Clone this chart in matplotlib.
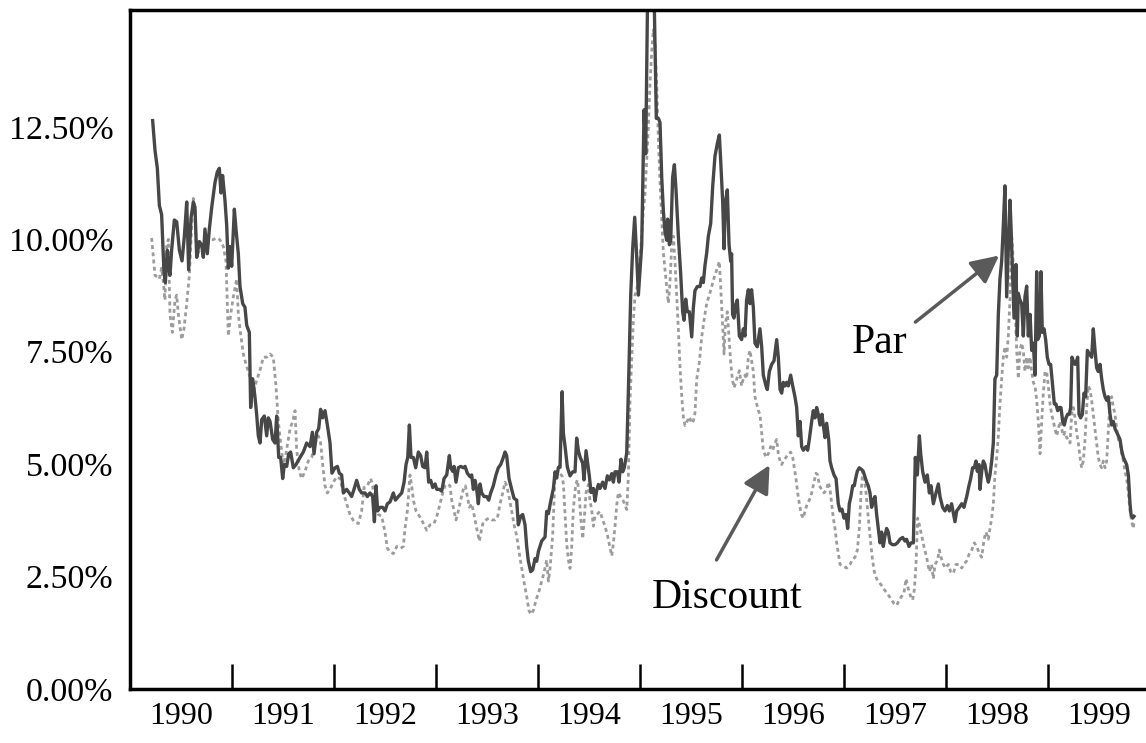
# Par vs Discount yields, 1990-1999
import matplotlib.pyplot as plt
import numpy as np

plt.rcParams['font.family'] = ['Liberation Serif', 'DejaVu Serif']

# dates as decimal years, values in percent
par_t = [1990.222, 1990.245, 1990.268, 1990.288, 1990.310, 1990.333, 1990.346, 1990.366, 1990.379, 1990.392,
         1990.408, 1990.435, 1990.458, 1990.484, 1990.510, 1990.533, 1990.556, 1990.575, 1990.598, 1990.621,
         1990.637, 1990.654, 1990.680, 1990.703, 1990.719, 1990.735, 1990.758, 1990.778, 1990.801, 1990.833,
         1990.856, 1990.876, 1990.892, 1990.908, 1990.931, 1990.948, 1990.964, 1990.980, 1990.997, 1991.023,
         1991.039, 1991.062, 1991.078, 1991.105, 1991.127, 1991.144, 1991.170, 1991.183, 1991.203, 1991.225,
         1991.242, 1991.258, 1991.275, 1991.291, 1991.317, 1991.340, 1991.356, 1991.373, 1991.399, 1991.422,
         1991.438, 1991.458, 1991.477, 1991.497, 1991.513, 1991.536, 1991.556, 1991.575, 1991.601, 1991.627,
         1991.667, 1991.699, 1991.732, 1991.765, 1991.788, 1991.804, 1991.830, 1991.850, 1991.869, 1991.889,
         1991.912, 1991.935, 1991.961, 1991.980, 1992.010, 1992.033, 1992.052, 1992.075, 1992.092, 1992.124,
         1992.150, 1992.173, 1992.196, 1992.222, 1992.248, 1992.271, 1992.304, 1992.327, 1992.353, 1992.379,
         1992.396, 1992.412, 1992.428, 1992.451, 1992.477, 1992.500, 1992.523, 1992.549, 1992.582, 1992.602,
         1992.631, 1992.664, 1992.687, 1992.706, 1992.723, 1992.739, 1992.755, 1992.778, 1992.801, 1992.827,
         1992.850, 1992.869, 1992.892, 1992.909, 1992.928, 1992.948, 1992.968, 1992.991, 1993.007, 1993.033,
         1993.056, 1993.079, 1993.105, 1993.131, 1993.144, 1993.164, 1993.177, 1993.196, 1993.219, 1993.242,
         1993.268, 1993.285, 1993.307, 1993.334, 1993.350, 1993.366, 1993.383, 1993.399, 1993.415, 1993.432,
         1993.448, 1993.471, 1993.497, 1993.517, 1993.536, 1993.562, 1993.588, 1993.611, 1993.634, 1993.654,
         1993.677, 1993.693, 1993.716, 1993.742, 1993.765, 1993.791, 1993.807, 1993.830, 1993.850, 1993.873,
         1993.889, 1993.905, 1993.928, 1993.948, 1993.971, 1993.987, 1994.004, 1994.036, 1994.069, 1994.085,
         1994.102, 1994.125, 1994.151, 1994.167, 1994.183, 1994.200, 1994.216, 1994.236, 1994.249, 1994.265,
         1994.288, 1994.314, 1994.340, 1994.363, 1994.379, 1994.396, 1994.412, 1994.438, 1994.451, 1994.471,
         1994.487, 1994.503, 1994.520, 1994.543, 1994.559, 1994.575, 1994.592, 1994.608, 1994.634, 1994.657,
         1994.680, 1994.700, 1994.723, 1994.739, 1994.755, 1994.778, 1994.794, 1994.814, 1994.830, 1994.847,
         1994.870, 1994.889, 1994.909, 1994.928, 1994.948, 1994.968, 1994.984, 1995.000, 1995.017, 1995.040,
         1995.056, 1995.080, 1995.130, 1995.160, 1995.180, 1995.196, 1995.213, 1995.229, 1995.245, 1995.262,
         1995.271, 1995.288, 1995.301, 1995.320, 1995.337, 1995.353, 1995.376, 1995.399, 1995.418, 1995.432,
         1995.448, 1995.464, 1995.484, 1995.507, 1995.523, 1995.539, 1995.562, 1995.588, 1995.605, 1995.621,
         1995.637, 1995.654, 1995.670, 1995.693, 1995.713, 1995.735, 1995.758, 1995.778, 1995.791, 1995.811,
         1995.824, 1995.837, 1995.856, 1995.873, 1995.889, 1995.898, 1995.908, 1995.921, 1995.941, 1995.954,
         1995.974, 1995.996, 1996.013, 1996.029, 1996.045, 1996.062, 1996.078, 1996.094, 1996.111, 1996.127,
         1996.150, 1996.176, 1996.193, 1996.209, 1996.235, 1996.248, 1996.268, 1996.291, 1996.314, 1996.340,
         1996.356, 1996.373, 1996.389, 1996.405, 1996.422, 1996.438, 1996.454, 1996.477, 1996.497, 1996.519,
         1996.536, 1996.552, 1996.569, 1996.585, 1996.601, 1996.627, 1996.644, 1996.660, 1996.683, 1996.699,
         1996.716, 1996.732, 1996.748, 1996.765, 1996.784, 1996.797, 1996.814, 1996.830, 1996.850, 1996.863,
         1996.879, 1996.902, 1996.922, 1996.944, 1996.961, 1996.980, 1997.000, 1997.019, 1997.036, 1997.052,
         1997.068, 1997.085, 1997.101, 1997.114, 1997.130, 1997.150, 1997.173, 1997.189, 1997.206, 1997.222,
         1997.238, 1997.255, 1997.271, 1997.287, 1997.304, 1997.320, 1997.336, 1997.353, 1997.369, 1997.385,
         1997.402, 1997.418, 1997.434, 1997.451, 1997.474, 1997.500, 1997.523, 1997.549, 1997.575, 1997.598,
         1997.614, 1997.637, 1997.657, 1997.680, 1997.699, 1997.719, 1997.739, 1997.752, 1997.771, 1997.794,
         1997.817, 1997.837, 1997.853, 1997.876, 1997.902, 1997.925, 1997.941, 1997.967, 1997.990, 1998.013,
         1998.033, 1998.055, 1998.072, 1998.088, 1998.105, 1998.131, 1998.154, 1998.176, 1998.203, 1998.225,
         1998.242, 1998.261, 1998.278, 1998.294, 1998.307, 1998.324, 1998.333, 1998.350, 1998.366, 1998.382,
         1998.399, 1998.415, 1998.431, 1998.448, 1998.464, 1998.480, 1998.497, 1998.513, 1998.529, 1998.546,
         1998.562, 1998.578, 1998.595, 1998.611, 1998.627, 1998.637, 1998.650, 1998.667, 1998.676, 1998.686,
         1998.699, 1998.709, 1998.725, 1998.742, 1998.758, 1998.774, 1998.791, 1998.807, 1998.824, 1998.840,
         1998.856, 1998.873, 1998.889, 1998.899, 1998.915, 1998.931, 1998.944, 1998.961, 1998.977, 1998.993,
         1999.010, 1999.026, 1999.046, 1999.062, 1999.078, 1999.095, 1999.111, 1999.127, 1999.144, 1999.160,
         1999.176, 1999.193, 1999.209, 1999.222, 1999.235, 1999.248, 1999.265, 1999.281, 1999.291, 1999.304,
         1999.320, 1999.337, 1999.353, 1999.369, 1999.386, 1999.405, 1999.428, 1999.444, 1999.461, 1999.477,
         1999.493, 1999.510, 1999.526, 1999.542, 1999.559, 1999.575, 1999.591, 1999.608, 1999.624, 1999.641,
         1999.657, 1999.673, 1999.690, 1999.706, 1999.722, 1999.739, 1999.755, 1999.771, 1999.788, 1999.804,
         1999.814, 1999.830, 1999.843]
par_v = [12.64, 11.98, 11.58, 10.75, 10.55, 9.28, 9.04, 9.76, 9.36, 9.20,
         9.76, 10.43, 10.39, 9.76, 9.52, 10.07, 10.83, 9.32, 10.47, 10.83,
         10.71, 9.60, 9.95, 9.87, 9.60, 10.23, 9.68, 10.23, 10.71, 11.26,
         11.50, 11.58, 11.03, 11.42, 10.87, 10.31, 9.36, 9.84, 9.40, 10.67,
         10.23, 9.68, 8.96, 8.57, 8.49, 8.09, 7.93, 6.26, 6.90, 6.50,
         6.10, 5.63, 5.47, 5.99, 6.07, 5.63, 6.03, 5.95, 5.55, 5.47,
         6.07, 5.15, 5.15, 4.68, 4.99, 4.95, 5.23, 5.27, 4.92, 4.99,
         5.15, 5.27, 5.47, 5.39, 5.71, 5.23, 5.71, 5.79, 6.22, 6.03,
         6.19, 5.87, 5.47, 4.80, 4.92, 4.95, 4.80, 4.76, 4.36, 4.44,
         4.36, 4.28, 4.44, 4.64, 4.44, 4.36, 4.36, 4.28, 4.36, 4.28,
         3.72, 4.52, 3.96, 4.04, 4.04, 3.96, 4.12, 4.16, 4.36, 4.20,
         4.28, 4.36, 4.60, 4.99, 5.15, 5.87, 5.15, 5.15, 4.92, 5.27,
         5.19, 4.95, 4.92, 5.27, 4.60, 4.64, 4.48, 4.56, 4.44, 4.44,
         4.40, 4.68, 4.76, 5.19, 4.92, 4.84, 4.95, 4.60, 4.92, 4.95,
         4.92, 4.95, 4.80, 4.72, 4.76, 4.44, 4.64, 4.44, 4.12, 4.56,
         4.36, 4.28, 4.28, 4.20, 4.36, 4.52, 4.76, 4.92, 4.99, 5.11,
         5.27, 5.19, 4.68, 4.44, 4.24, 4.20, 3.65, 3.84, 3.88, 3.65,
         3.17, 2.85, 2.61, 2.65, 2.90, 2.84, 3.06, 3.29, 3.38, 3.95,
         3.90, 4.18, 4.46, 4.83, 4.69, 4.93, 4.93, 6.61, 5.68, 5.40,
         4.93, 4.74, 4.83, 4.83, 5.58, 5.30, 5.16, 5.02, 4.65, 5.30,
         5.02, 4.74, 4.37, 4.46, 4.18, 4.41, 4.55, 4.46, 4.60, 4.46,
         4.74, 4.65, 4.79, 4.60, 4.83, 4.83, 4.60, 5.11, 4.83, 4.93,
         5.25, 6.89, 8.76, 9.79, 10.49, 9.60, 8.76, 9.32, 9.88, 12.88,
         11.90, 16.50, 16.50, 12.69, 12.69, 12.60, 11.38, 10.63, 10.17, 9.98,
         10.45, 9.88, 9.98, 11.38, 11.66, 11.10, 10.07, 9.23, 8.39, 8.20,
         8.67, 8.39, 8.39, 7.83, 8.48, 8.86, 8.95, 8.95, 9.14, 9.04,
         9.42, 9.70, 10.07, 10.35, 11.19, 11.85, 12.13, 12.32, 11.75, 10.82,
         9.79, 10.82, 11.10, 9.88, 9.51, 9.68, 8.33, 8.25, 8.57, 8.65,
         7.85, 7.77, 8.01, 7.85, 8.65, 8.88, 8.57, 8.88, 8.49, 7.69,
         7.61, 8.01, 7.61, 6.98, 6.74, 6.66, 7.06, 7.22, 7.30, 7.77,
         7.38, 6.66, 6.58, 6.82, 6.74, 6.82, 6.74, 6.98, 6.74, 6.50,
         6.26, 5.63, 5.95, 5.39, 5.31, 5.39, 5.31, 5.55, 5.95, 6.19,
         6.03, 6.26, 6.11, 5.87, 6.11, 5.87, 5.59, 5.91, 5.55, 5.07,
         4.92, 4.76, 4.68, 4.12, 3.96, 4.00, 3.80, 3.88, 3.57, 4.12,
         4.28, 4.52, 4.52, 4.68, 4.84, 4.92, 4.88, 4.84, 4.72, 4.60,
         4.52, 4.36, 4.04, 4.20, 4.28, 3.88, 3.57, 3.25, 3.49, 3.17,
         3.41, 3.57, 3.49, 3.25, 3.21, 3.21, 3.25, 3.33, 3.37, 3.29,
         3.33, 3.17, 3.25, 3.25, 5.15, 4.76, 5.63, 5.23, 4.84, 4.60,
         4.76, 4.36, 4.52, 4.12, 4.36, 4.56, 4.28, 4.04, 3.96, 4.08,
         3.96, 4.12, 3.92, 3.72, 3.96, 4.04, 4.12, 4.04, 4.28, 4.52,
         4.68, 4.92, 4.92, 5.07, 4.84, 4.99, 4.44, 4.84, 5.07, 4.99,
         4.76, 4.60, 4.76, 5.07, 5.47, 6.90, 6.98, 8.33, 9.12, 9.52,
         10.31, 11.19, 8.72, 9.76, 10.87, 10.31, 9.44, 8.25, 8.80, 9.44,
         7.85, 8.80, 8.65, 8.57, 7.85, 8.72, 8.96, 7.85, 8.33, 7.53,
         7.69, 6.98, 9.28, 7.77, 7.85, 9.28, 7.93, 8.01, 7.77, 7.38,
         7.22, 7.22, 6.74, 6.34, 6.34, 6.19, 6.26, 6.26, 5.95, 5.87,
         6.03, 6.11, 6.11, 6.26, 7.38, 7.30, 7.22, 7.30, 7.38, 6.11,
         6.03, 6.11, 6.58, 6.50, 7.53, 7.45, 7.38, 8.01, 7.53, 7.14,
         7.06, 7.22, 6.90, 6.66, 6.50, 6.42, 6.50, 6.11, 5.87, 5.95,
         5.79, 5.71, 5.63, 5.55, 5.31, 5.15, 5.07, 4.99, 4.76, 4.12,
         3.88, 3.80, 3.84]

disc_t = [1990.212, 1990.229, 1990.245, 1990.268, 1990.288, 1990.310, 1990.327, 1990.343, 1990.359, 1990.376,
          1990.392, 1990.415, 1990.441, 1990.458, 1990.474, 1990.507, 1990.529, 1990.556, 1990.582, 1990.605,
          1990.621, 1990.637, 1990.654, 1990.686, 1990.719, 1990.768, 1990.810, 1990.856, 1990.882, 1990.915,
          1990.941, 1990.964, 1990.987, 1991.013, 1991.046, 1991.062, 1991.078, 1991.111, 1991.137, 1991.160,
          1991.183, 1991.203, 1991.225, 1991.248, 1991.281, 1991.307, 1991.340, 1991.373, 1991.405, 1991.431,
          1991.454, 1991.477, 1991.503, 1991.529, 1991.552, 1991.569, 1991.595, 1991.618, 1991.634, 1991.660,
          1991.683, 1991.716, 1991.748, 1991.781, 1991.814, 1991.846, 1991.869, 1991.889, 1991.912, 1991.935,
          1991.961, 1991.994, 1992.026, 1992.059, 1992.092, 1992.124, 1992.157, 1992.196, 1992.239, 1992.271,
          1992.294, 1992.327, 1992.360, 1992.379, 1992.402, 1992.435, 1992.468, 1992.500, 1992.523, 1992.549,
          1992.582, 1992.615, 1992.654, 1992.680, 1992.696, 1992.719, 1992.745, 1992.762, 1992.778, 1992.804,
          1992.827, 1992.850, 1992.883, 1992.909, 1992.941, 1992.981, 1993.013, 1993.039, 1993.066, 1993.088,
          1993.111, 1993.137, 1993.154, 1993.177, 1993.196, 1993.219, 1993.242, 1993.268, 1993.288, 1993.307,
          1993.327, 1993.350, 1993.373, 1993.399, 1993.425, 1993.448, 1993.464, 1993.490, 1993.517, 1993.546,
          1993.579, 1993.602, 1993.628, 1993.654, 1993.677, 1993.693, 1993.716, 1993.742, 1993.765, 1993.791,
          1993.817, 1993.840, 1993.863, 1993.889, 1993.912, 1993.932, 1993.955, 1993.981, 1994.014, 1994.036,
          1994.059, 1994.085, 1994.102, 1994.118, 1994.144, 1994.167, 1994.190, 1994.216, 1994.236, 1994.249,
          1994.265, 1994.281, 1994.298, 1994.314, 1994.330, 1994.346, 1994.370, 1994.386, 1994.405, 1994.419,
          1994.438, 1994.451, 1994.471, 1994.494, 1994.510, 1994.526, 1994.543, 1994.559, 1994.585, 1994.608,
          1994.634, 1994.657, 1994.680, 1994.706, 1994.723, 1994.739, 1994.755, 1994.772, 1994.788, 1994.811,
          1994.837, 1994.853, 1994.870, 1994.886, 1994.902, 1994.919, 1994.935, 1994.951, 1994.967, 1994.984,
          1995.000, 1995.017, 1995.033, 1995.049, 1995.066, 1995.082, 1995.098, 1995.115, 1995.131, 1995.147,
          1995.164, 1995.180, 1995.196, 1995.213, 1995.229, 1995.245, 1995.262, 1995.278, 1995.294, 1995.311,
          1995.327, 1995.343, 1995.360, 1995.376, 1995.392, 1995.409, 1995.425, 1995.441, 1995.464, 1995.484,
          1995.507, 1995.523, 1995.539, 1995.556, 1995.582, 1995.605, 1995.628, 1995.654, 1995.680, 1995.703,
          1995.726, 1995.752, 1995.778, 1995.791, 1995.811, 1995.824, 1995.837, 1995.856, 1995.873, 1995.889,
          1995.905, 1995.922, 1995.948, 1995.974, 1995.996, 1996.013, 1996.029, 1996.045, 1996.062, 1996.078,
          1996.094, 1996.111, 1996.127, 1996.144, 1996.160, 1996.176, 1996.193, 1996.209, 1996.235, 1996.258,
          1996.281, 1996.301, 1996.324, 1996.340, 1996.356, 1996.373, 1996.389, 1996.405, 1996.431, 1996.454,
          1996.477, 1996.497, 1996.513, 1996.529, 1996.546, 1996.562, 1996.582, 1996.601, 1996.618, 1996.640,
          1996.660, 1996.683, 1996.706, 1996.725, 1996.742, 1996.758, 1996.781, 1996.804, 1996.830, 1996.846,
          1996.863, 1996.879, 1996.895, 1996.912, 1996.928, 1996.944, 1996.961, 1996.993, 1997.026, 1997.059,
          1997.085, 1997.108, 1997.131, 1997.150, 1997.167, 1997.183, 1997.199, 1997.216, 1997.232, 1997.248,
          1997.265, 1997.281, 1997.297, 1997.320, 1997.343, 1997.369, 1997.392, 1997.418, 1997.444, 1997.467,
          1997.490, 1997.516, 1997.542, 1997.565, 1997.588, 1997.608, 1997.631, 1997.654, 1997.673, 1997.690,
          1997.706, 1997.722, 1997.739, 1997.761, 1997.784, 1997.810, 1997.837, 1997.859, 1997.876, 1997.892,
          1997.915, 1997.935, 1997.951, 1997.974, 1997.997, 1998.023, 1998.046, 1998.072, 1998.098, 1998.131,
          1998.154, 1998.176, 1998.203, 1998.229, 1998.252, 1998.278, 1998.301, 1998.327, 1998.350, 1998.373,
          1998.392, 1998.415, 1998.431, 1998.448, 1998.464, 1998.480, 1998.497, 1998.513, 1998.529, 1998.546,
          1998.562, 1998.578, 1998.595, 1998.611, 1998.627, 1998.644, 1998.654, 1998.667, 1998.680, 1998.693,
          1998.709, 1998.725, 1998.742, 1998.758, 1998.774, 1998.791, 1998.807, 1998.824, 1998.840, 1998.856,
          1998.873, 1998.889, 1998.905, 1998.922, 1998.938, 1998.954, 1998.971, 1998.987, 1999.003, 1999.020,
          1999.036, 1999.052, 1999.069, 1999.085, 1999.101, 1999.118, 1999.134, 1999.150, 1999.167, 1999.183,
          1999.199, 1999.216, 1999.232, 1999.248, 1999.265, 1999.281, 1999.297, 1999.314, 1999.330, 1999.346,
          1999.363, 1999.379, 1999.395, 1999.412, 1999.428, 1999.444, 1999.461, 1999.477, 1999.493, 1999.510,
          1999.526, 1999.542, 1999.559, 1999.575, 1999.591, 1999.608, 1999.624, 1999.641, 1999.657, 1999.673,
          1999.690, 1999.706, 1999.722, 1999.739, 1999.755, 1999.771, 1999.788, 1999.804, 1999.820, 1999.837,
          1999.843]
disc_v = [10.03, 9.60, 9.20, 9.16, 9.12, 9.36, 9.04, 8.65, 9.84, 10.00,
          8.33, 7.93, 8.65, 8.76, 8.33, 7.77, 8.01, 8.57, 9.20, 10.31,
          10.91, 10.71, 9.60, 9.80, 9.87, 9.99, 9.99, 10.03, 9.99, 9.84,
          9.52, 7.85, 8.33, 8.72, 9.12, 8.33, 8.01, 7.45, 7.22, 7.06,
          6.90, 6.50, 6.74, 6.90, 7.14, 7.38, 7.38, 7.45, 7.38, 6.74,
          5.95, 5.47, 4.99, 5.23, 5.55, 5.79, 5.95, 6.19, 5.31, 4.84,
          4.68, 4.84, 5.07, 5.15, 5.47, 5.63, 5.47, 4.99, 4.52, 4.36,
          4.44, 4.60, 4.72, 4.68, 4.36, 4.12, 3.88, 3.72, 3.68, 3.96,
          4.48, 4.52, 4.68, 4.52, 4.04, 3.88, 3.84, 3.49, 3.13, 3.05,
          3.01, 3.17, 3.13, 3.17, 3.57, 3.96, 4.76, 4.52, 4.20, 3.96,
          3.88, 3.80, 3.65, 3.53, 3.65, 3.68, 3.88, 4.12, 4.36, 4.52,
          4.56, 4.52, 4.20, 3.96, 3.76, 3.96, 4.20, 4.44, 4.52, 4.28,
          4.04, 4.12, 3.88, 3.57, 3.29, 3.57, 3.72, 3.76, 3.80, 3.76,
          3.76, 3.80, 4.12, 4.36, 4.60, 4.52, 4.28, 3.96, 3.65, 3.41,
          3.01, 2.69, 2.38, 2.06, 1.74, 1.66, 1.75, 1.98, 2.21, 2.40,
          2.59, 2.87, 2.40, 2.68, 3.43, 4.74, 4.79, 4.79, 4.74, 4.55,
          3.90, 3.24, 2.87, 2.68, 3.15, 3.99, 4.55, 4.65, 4.27, 3.81,
          3.34, 3.71, 4.37, 4.55, 4.18, 3.99, 3.62, 3.85, 3.90, 3.95,
          3.76, 3.62, 3.43, 3.15, 2.96, 3.24, 3.62, 4.09, 4.37, 4.27,
          4.18, 4.09, 3.99, 4.74, 6.42, 7.36, 8.20, 8.76, 8.86, 9.14,
          9.60, 10.07, 10.63, 11.01, 11.76, 12.50, 13.44, 14.19, 14.66, 14.38,
          13.44, 12.22, 11.29, 10.45, 9.70, 9.32, 8.95, 8.58, 9.04, 9.88,
          10.07, 9.51, 8.76, 8.01, 7.17, 6.52, 6.05, 5.86, 5.96, 6.05,
          5.91, 5.96, 6.14, 6.89, 7.27, 7.83, 8.20, 8.58, 8.76, 8.95,
          9.14, 9.32, 9.51, 8.95, 8.01, 7.45, 8.11, 8.39, 7.83, 7.27,
          6.89, 6.70, 6.89, 7.08, 6.74, 6.90, 6.98, 6.90, 7.38, 7.53,
          7.30, 7.06, 6.50, 6.34, 6.19, 6.11, 5.71, 5.31, 5.15, 5.23,
          5.39, 5.31, 5.47, 5.55, 5.23, 5.07, 4.99, 5.07, 5.15, 5.23,
          5.27, 5.15, 4.92, 4.68, 4.36, 4.12, 3.88, 3.80, 3.96, 4.12,
          4.20, 4.36, 4.60, 4.80, 4.76, 4.52, 4.44, 4.36, 4.44, 4.60,
          4.44, 4.12, 3.80, 3.57, 3.25, 3.01, 2.77, 2.73, 2.69, 2.77,
          2.89, 2.93, 3.09, 3.57, 4.36, 4.84, 4.68, 4.36, 3.96, 3.57,
          3.17, 2.85, 2.61, 2.45, 2.38, 2.30, 2.22, 2.14, 2.06, 1.98,
          1.90, 1.86, 1.98, 2.06, 2.14, 2.45, 2.22, 2.06, 1.98, 2.22,
          2.77, 3.80, 3.65, 3.41, 3.17, 2.93, 2.61, 2.77, 2.45, 2.77,
          2.85, 3.09, 2.93, 2.77, 2.69, 2.77, 2.61, 2.57, 2.77, 2.77,
          2.69, 2.77, 2.85, 3.01, 3.09, 3.25, 3.17, 3.01, 2.93, 3.33,
          3.49, 3.33, 3.57, 3.80, 4.12, 4.76, 5.15, 5.63, 6.34, 6.90,
          7.38, 7.61, 7.38, 7.85, 8.65, 10.07, 9.76, 8.96, 8.33, 7.53,
          6.90, 7.53, 7.69, 7.53, 7.06, 7.38, 7.14, 7.38, 7.06, 6.82,
          6.74, 6.42, 5.95, 5.23, 5.95, 6.58, 7.06, 7.06, 6.74, 6.34,
          6.11, 5.95, 5.79, 5.63, 5.79, 5.95, 5.79, 5.63, 5.71, 5.59,
          5.55, 5.47, 6.11, 6.26, 6.03, 5.71, 5.47, 5.15, 4.92, 5.07,
          5.55, 6.26, 6.74, 6.66, 6.42, 6.11, 5.79, 5.47, 5.15, 4.99,
          4.92, 5.07, 4.92, 5.07, 5.71, 6.42, 6.50, 6.26, 6.11, 5.79,
          5.55, 5.47, 5.23, 5.07, 4.84, 4.68, 4.36, 3.96, 3.72, 3.57,
          3.72]

year_labels = ['1990', '1991', '1992', '1993', '1994', '1995', '1996', '1997', '1998', '1999']
y_ticks = [0, 2.5, 5, 7.5, 10, 12.5]

fig = plt.figure(figsize=(11.46, 7.43), dpi=100)
ax = fig.add_axes([130 / 1146, 1 - 689 / 743, 1016 / 1146, 679 / 743])

ax.plot(disc_t, disc_v, color='#9c9c9c', lw=2, dashes=(1.4, 1.2))
ax.plot(par_t, par_v, color='#474747', lw=2.4)

ax.set_xlim(1990, 1990 + 1016 / 102)
ax.set_ylim(0, 15.1)

# year boundaries get tick marks, labels sit in the middle of each year
years = np.arange(1990, 2000)
ax.set_xticks(years[1:])
ax.set_xticklabels([])
ax.set_xticks(years + 0.5, minor=True)
ax.set_xticklabels(year_labels, minor=True)
ax.tick_params(axis='x', which='major', direction='in', length=18, width=1.8, color='black')
ax.tick_params(axis='x', which='minor', length=0, pad=9, labelsize=23)

ax.set_yticks(y_ticks)
ax.set_yticklabels(['%.2f%%' % v for v in y_ticks])
ax.tick_params(axis='y', length=0, pad=12, labelsize=24.5)

for side in ['left', 'bottom', 'top']:
    ax.spines[side].set_linewidth(2.5)
    ax.spines[side].set_color('black')
ax.spines['right'].set_visible(False)

# labels with arrows
arrow = dict(arrowstyle='-|>', mutation_scale=42, color='#5a5a5a', lw=2.5, shrinkA=0, shrinkB=0)
ax.annotate('', xy=(1998.52, 9.64), xytext=(1997.70, 8.16), arrowprops=arrow)
ax.text(1997.35, 7.69, 'Par', fontsize=30, ha='center', va='center')
ax.annotate('', xy=(1996.27, 4.98), xytext=(1995.75, 2.87), arrowprops=arrow)
ax.text(1995.85, 2.04, 'Discount', fontsize=30, ha='center', va='center')

fig.savefig('out.png', dpi=100)
